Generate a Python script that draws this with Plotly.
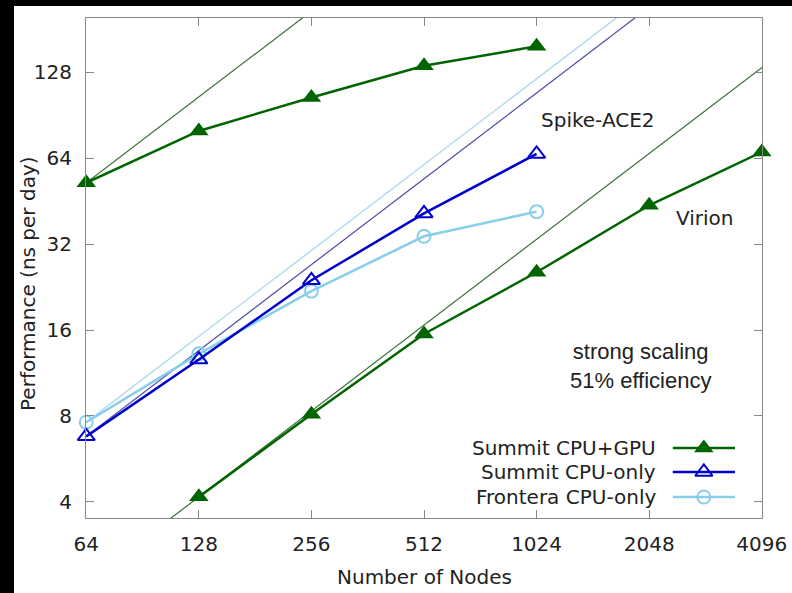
import plotly.graph_objects as go

# ---- data ----
nodes_spike = [64, 128, 256, 512, 1024]
spike_gpu = [52.5, 79.8, 104.6, 135.0, 158.0]
spike_cpu = [6.78, 12.6, 23.9, 41.0, 66.3]
frontera_cpu = [7.6, 13.2, 21.9, 34.1, 41.6]

nodes_virion = [128, 256, 512, 1024, 2048, 4096]
virion_gpu = [4.16, 8.1, 15.5, 25.5, 43.8, 67.3]

ideal_nodes = [32, 8192]

x_ticks = [64, 128, 256, 512, 1024, 2048, 4096]
y_ticks = [4, 8, 16, 32, 64, 128]

legend_names = ["Summit CPU+GPU", "Summit CPU-only", "Frontera CPU-only"]

GREEN = "#006400"
GREEN_THIN = "#3a6e3a"
BLUE = "#0000cd"
BLUE_THIN = "#4a4aa8"
SKY = "#87ceeb"
SKY_THIN = "#a8d8ee"
TXT = "#222"
FONT = "DejaVu Sans"

def ideal(base_n, base_v):
    return [base_v * n / base_n for n in ideal_nodes]

fig = go.Figure()

# ideal scaling lines
fig.add_trace(go.Scatter(x=ideal_nodes, y=ideal(64, spike_gpu[0]), mode="lines",
                         line=dict(color=GREEN_THIN, width=1.2), showlegend=False))
fig.add_trace(go.Scatter(x=ideal_nodes, y=ideal(128, virion_gpu[0]), mode="lines",
                         line=dict(color=GREEN_THIN, width=1.2), showlegend=False))
fig.add_trace(go.Scatter(x=ideal_nodes, y=ideal(64, spike_cpu[0]), mode="lines",
                         line=dict(color=BLUE_THIN, width=1.2), showlegend=False))
fig.add_trace(go.Scatter(x=ideal_nodes, y=ideal(64, frontera_cpu[0]), mode="lines",
                         line=dict(color=SKY_THIN, width=1.3), showlegend=False))

# data series
fig.add_trace(go.Scatter(x=nodes_spike, y=frontera_cpu, mode="lines+markers",
                         line=dict(color=SKY, width=2.5),
                         marker=dict(symbol="circle-open", size=13, color=SKY, line=dict(width=2)),
                         showlegend=False, cliponaxis=False))
fig.add_trace(go.Scatter(x=nodes_spike, y=spike_cpu, mode="lines+markers",
                         line=dict(color=BLUE, width=2.5),
                         marker=dict(symbol="triangle-up-open", size=15, color=BLUE, line=dict(width=2)),
                         showlegend=False, cliponaxis=False))
fig.add_trace(go.Scatter(x=nodes_spike, y=spike_gpu, mode="lines+markers",
                         line=dict(color=GREEN, width=2.5),
                         marker=dict(symbol="triangle-up", size=17, color=GREEN),
                         showlegend=False, cliponaxis=False))
fig.add_trace(go.Scatter(x=nodes_virion, y=virion_gpu, mode="lines+markers",
                         line=dict(color=GREEN, width=2.5),
                         marker=dict(symbol="triangle-up", size=17, color=GREEN),
                         showlegend=False, cliponaxis=False))

# custom legend (text left, sample right) on an overlay axis
leg_rows = [0.14, 0.092, 0.042]
leg_styles = [
    (GREEN, dict(symbol="triangle-up", size=17, color=GREEN)),
    (BLUE, dict(symbol="triangle-up-open", size=15, color=BLUE, line=dict(width=2))),
    (SKY, dict(symbol="circle-open", size=13, color=SKY, line=dict(width=2))),
]
for name, yy, (col, mk) in zip(legend_names, leg_rows, leg_styles):
    fig.add_trace(go.Scatter(x=[0.868, 0.914, 0.960], y=[yy, yy, yy], mode="lines",
                             line=dict(color=col, width=2.5), xaxis="x2", yaxis="y2",
                             showlegend=False))
    fig.add_trace(go.Scatter(x=[0.914], y=[yy], mode="markers", marker=mk,
                             xaxis="x2", yaxis="y2", showlegend=False))
    fig.add_annotation(x=0.846, y=yy, xref="paper", yref="paper", text=name,
                       showarrow=False, xanchor="right", yanchor="middle",
                       font=dict(family=FONT, size=20, color=TXT))

# text labels
fig.add_annotation(x=0.670, y=0.796, xref="paper", yref="paper", text="Spike-ACE2",
                   showarrow=False, xanchor="left", yanchor="middle",
                   font=dict(family=FONT, size=20, color=TXT))
fig.add_annotation(x=0.870, y=0.600, xref="paper", yref="paper", text="Virion",
                   showarrow=False, xanchor="left", yanchor="middle",
                   font=dict(family=FONT, size=20, color=TXT))
fig.add_annotation(x=0.821, y=0.304, xref="paper", yref="paper",
                   text="strong scaling<br>51% efficiency",
                   showarrow=False, xanchor="center", yanchor="middle", align="center",
                   font=dict(family="Liberation Sans", size=22, color=TXT))

# axis titles
fig.add_annotation(x=0.5, y=-0.118, xref="paper", yref="paper", text="Number of Nodes",
                   showarrow=False, xanchor="center", yanchor="middle",
                   font=dict(family=FONT, size=20, color=TXT))
fig.add_annotation(x=-0.0858, y=0.47, xref="paper", yref="paper",
                   text="Performance (ns per day)", textangle=-90,
                   showarrow=False, xanchor="center", yanchor="middle",
                   font=dict(family=FONT, size=20, color=TXT))

# white card behind everything
fig.add_shape(type="rect", xref="paper", yref="paper", x0=-0.1065, x1=1.1, y0=-0.2, y1=1.024,
              fillcolor="white", line=dict(width=0), layer="below")

axis_common = dict(showline=True, linecolor="#888", linewidth=1, mirror="ticks",
                   ticks="inside", ticklen=8, tickcolor="#888", showgrid=False, zeroline=False,
                   automargin=False,
                   tickfont=dict(family=FONT, size=20, color=TXT))

fig.update_layout(
    width=792, height=593,
    margin=dict(l=86, r=30, t=18, b=75),
    paper_bgcolor="black", plot_bgcolor="white",
    xaxis=dict(type="log", range=[1.8055, 3.6130], tickvals=x_ticks,
               ticktext=[str(v) for v in x_ticks], ticklabelstandoff=8,
               **axis_common),
    yaxis=dict(type="log", range=[0.545, 2.298], tickvals=y_ticks,
               ticktext=[str(v) for v in y_ticks], ticklabelstandoff=9,
               **axis_common),
    xaxis2=dict(overlaying="x", range=[0, 1], visible=False, anchor="y2"),
    yaxis2=dict(overlaying="y", range=[0, 1], visible=False, anchor="x2"),
    showlegend=False,
)

fig.write_html("out.html", config={"displayModeBar": False},
               post_script="document.body.style.margin='0';document.body.style.background='black';")
